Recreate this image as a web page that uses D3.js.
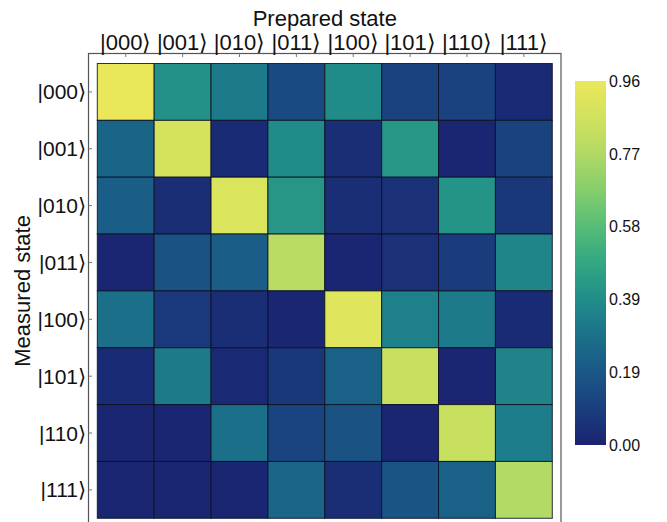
<!DOCTYPE html>
<html lang="en">
<head>
<meta charset="UTF-8">
<title>Measured vs prepared state</title>
<script src="https://cdn.jsdelivr.net/npm/d3@7"></script>
<style>
  body { margin: 0; background: #fff; }
  text { font-family: "Liberation Sans", Arial, sans-serif; }
</style>
</head>
<body>
<script>
// basis states, used for both axes
const states = ["|000⟩", "|001⟩", "|010⟩", "|011⟩", "|100⟩", "|101⟩", "|110⟩", "|111⟩"];

// rows = measured state, columns = prepared state
const row000 = [0.96, 0.40, 0.32, 0.14, 0.38, 0.11, 0.11, 0.02];
const row001 = [0.24, 0.88, 0.03, 0.38, 0.04, 0.42, 0.01, 0.11];
const row010 = [0.22, 0.04, 0.90, 0.42, 0.04, 0.05, 0.41, 0.07];
const row011 = [0.01, 0.17, 0.22, 0.80, 0.01, 0.05, 0.09, 0.36];
const row100 = [0.28, 0.08, 0.04, 0.01, 0.92, 0.34, 0.32, 0.03];
const row101 = [0.03, 0.32, 0.02, 0.07, 0.23, 0.84, 0.01, 0.35];
const row110 = [0.01, 0.01, 0.28, 0.12, 0.17, 0.01, 0.84, 0.33];
const row111 = [0.01, 0.01, 0.01, 0.25, 0.04, 0.18, 0.23, 0.78];
const rows = [row000, row001, row010, row011, row100, row101, row110, row111];

const vmax = 0.965;
const cbarLabels = ["0.00", "0.19", "0.39", "0.58", "0.77", "0.96"];

const width = 667, height = 522;

const svg = d3.select("body").append("svg")
    .attr("width", width)
    .attr("height", height);

// colour map sampled off the reference colour bar
const interp = d3.interpolateRgbBasis(["#1a2371", "#1a4a84", "#1a6c8a", "#21968a", "#45b87a", "#8ed06a", "#c8e060", "#ebe75a"]);
const color = d3.scaleSequential(interp).domain([0, vmax]);

const grid = { x0: 97.3, y0: 63.5, x1: 552.3, y1: 518.3 };
const x = d3.scaleBand().domain(states).range([grid.x0, grid.x1]);
const y = d3.scaleBand().domain(states).range([grid.y0, grid.y1]);

// axes frame (runs off the bottom of the picture)
svg.append("rect")
    .attr("x", 88.5).attr("y", 53.5)
    .attr("width", 472.5).attr("height", 490)
    .attr("fill", "none")
    .attr("stroke", "#555")
    .attr("stroke-width", 1.2);

// small inward ticks on the frame
svg.append("g").selectAll("line").data(states).join("line")
    .attr("x1", d => x(d) + x.bandwidth() / 2).attr("x2", d => x(d) + x.bandwidth() / 2)
    .attr("y1", 53.5).attr("y2", 57)
    .attr("stroke", "#777");
svg.append("g").selectAll("line").data(states).join("line")
    .attr("y1", d => y(d) + y.bandwidth() / 2).attr("y2", d => y(d) + y.bandwidth() / 2)
    .attr("x1", 88.5).attr("x2", 92)
    .attr("stroke", "#777");

const cells = [];
rows.forEach((r, i) => r.forEach((v, j) => cells.push({ m: states[i], p: states[j], v })));

svg.append("g").selectAll("rect").data(cells).join("rect")
    .attr("x", d => x(d.p))
    .attr("y", d => y(d.m))
    .attr("width", x.bandwidth())
    .attr("height", y.bandwidth())
    .attr("fill", d => color(d.v))
    .attr("stroke", "#0b0f20")
    .attr("stroke-opacity", 0.85)
    .attr("stroke-width", 1);

// top tick labels
svg.append("g").selectAll("text").data(states).join("text")
    .attr("x", d => x(d) + x.bandwidth() / 2)
    .attr("y", 50)
    .attr("text-anchor", "middle")
    .attr("font-size", 22)
    .attr("fill", "#111")
    .text(d => d);

// left tick labels
svg.append("g").selectAll("text").data(states).join("text")
    .attr("x", 86)
    .attr("y", d => y(d) + y.bandwidth() / 2)
    .attr("dy", "0.36em")
    .attr("text-anchor", "end")
    .attr("font-size", 21)
    .attr("fill", "#111")
    .text(d => d);

svg.append("text")
    .attr("x", (grid.x0 + grid.x1) / 2)
    .attr("y", 26)
    .attr("text-anchor", "middle")
    .attr("font-size", 22)
    .attr("fill", "#111")
    .text("Prepared state");

svg.append("text")
    .attr("transform", `translate(30,${(grid.y0 + grid.y1) / 2}) rotate(-90)`)
    .attr("text-anchor", "middle")
    .attr("font-size", 22)
    .attr("fill", "#111")
    .text("Measured state");

// colour bar
const cb = { x: 575, w: 31, top: 81, bottom: 445 };
const defs = svg.append("defs");
const grad = defs.append("linearGradient").attr("id", "cbar")
    .attr("x1", 0).attr("y1", 1).attr("x2", 0).attr("y2", 0);
grad.selectAll("stop").data(d3.range(0, 1.0001, 0.05)).join("stop")
    .attr("offset", d => d)
    .attr("stop-color", d => interp(d));

svg.append("rect")
    .attr("x", cb.x).attr("y", cb.top)
    .attr("width", cb.w).attr("height", cb.bottom - cb.top)
    .attr("fill", "url(#cbar)");

const cy = d3.scaleLinear().domain([0, cbarLabels.length - 1]).range([cb.bottom, cb.top]);
svg.append("g").selectAll("text").data(cbarLabels).join("text")
    .attr("x", cb.x + cb.w + 3)
    .attr("y", (d, i) => cy(i))
    .attr("dy", "0.36em")
    .attr("font-size", 16)
    .attr("fill", "#111")
    .text(d => d);
</script>
</body>
</html>
